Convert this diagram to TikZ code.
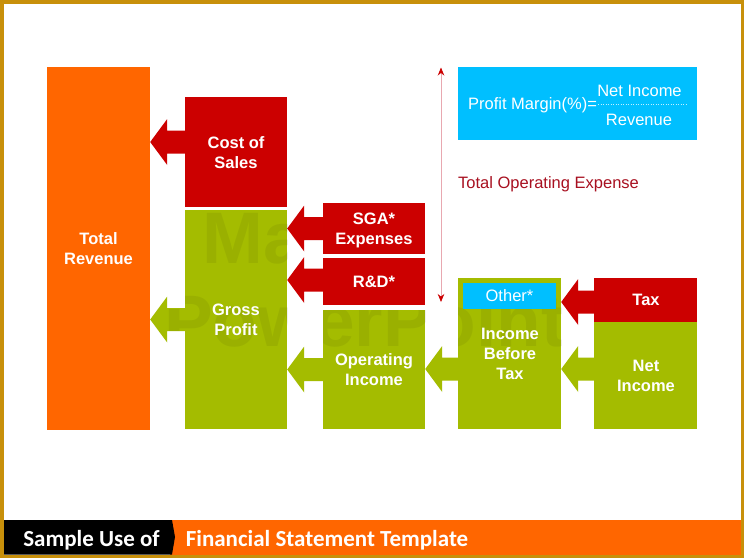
\documentclass[tikz,border=0pt]{standalone}
\usepackage{fontspec}
\setmainfont{Liberation Sans}
\newfontfamily\barfont{Carlito}
\usetikzlibrary{calc,arrows.meta}
\definecolor{framegold}{HTML}{C8900A}
\definecolor{barorange}{HTML}{FF6600}
\definecolor{boxred}{HTML}{CC0000}
\definecolor{boxgreen}{HTML}{A4BC00}
\definecolor{boxcyan}{HTML}{00BFFF}
\definecolor{textred}{HTML}{A81020}
\definecolor{spanpink}{HTML}{E8A8B0}
\tikzset{
	box/.style={inner sep=0pt, align=center, text=white, font=\fontsize{16.5}{20}\selectfont\bfseries},
	plain/.style={text=white, inner sep=0pt, font=\fontsize{16.5}{19}\selectfont},
	bartext/.style={text=white, font=\barfont\fontsize{23}{27}\selectfont\bfseries},
	watermark/.style={opacity=0.06, font=\fontsize{73}{76}\selectfont\bfseries},
	blockarrow/.style={to path={let \p1=(\tikztostart), \p2=(\tikztotarget) in
		(\x1,\y1+11.5pt) -- (\x2+17pt,\y1+11.5pt) -- (\x2+17pt,\y1+23pt) -- (\x2,\y1)
		-- (\x2+17pt,\y1-23pt) -- (\x2+17pt,\y1-11.5pt) -- (\x1,\y1-11.5pt) -- cycle}},
}
\begin{document}
\begin{tikzpicture}[x=1pt, y=-1pt]

	\useasboundingbox (0,0) rectangle (744,558);
	\fill[framegold] (0,0) rectangle (744,558);
	\fill[white] (4,4) rectangle (741,554.5);

	% bottom bar
	\fill[barorange] (170,520) rectangle (741,554.5);
	\fill[black] (4,520) -- (172,520) -- (175,537) -- (172,554.5) -- (4,554.5) -- cycle;
	\node[bartext] (sample) at (91.5,540) {Sample Use of};
	\node[bartext] (title) at (327,540) {Financial Statement Template};

	% boxes
	\node[box, fill=barorange, minimum width=103pt, minimum height=363pt] (revenue) at (98.5,248.5) {Total\\Revenue};
	\node[box, fill=boxred, minimum width=102pt, minimum height=110pt] (cost) at (236,152) {};
	\node[box, fill=boxgreen, minimum width=102pt, minimum height=219pt] (gross) at (236,319.5) {};
	\node[box, fill=boxred, minimum width=102pt, minimum height=51pt] (sga) at (374,228.5) {};
	\node[box, fill=boxred, minimum width=102pt, minimum height=47pt] (rd) at (374,281.5) {};
	\node[box, fill=boxgreen, minimum width=102pt, minimum height=119pt] (operating) at (374,369.5) {};
	\node[box, fill=boxgreen, minimum width=103pt, minimum height=151pt] (before) at (509.5,353.5) {};
	\node[box, fill=boxred, minimum width=103pt, minimum height=44pt] (tax) at (645.5,300) {};
	\node[box, fill=boxgreen, minimum width=103pt, minimum height=107pt] (net) at (645.5,375.5) {};
	\node[box, fill=boxcyan, minimum width=239pt, minimum height=73pt] (margin) at (577.5,103.5) {};

	% block arrows
	\fill[boxred] ([yshift=10pt]cost.west) to[blockarrow] (revenue.east);
	\fill[boxgreen] (gross.west) to[blockarrow] (revenue.east);
	\fill[boxred] (sga.west) to[blockarrow] (gross.east);
	\fill[boxred] ([yshift=1.5pt]rd.west) to[blockarrow] (gross.east);
	\fill[boxgreen] (operating.west) to[blockarrow] (gross.east);
	\fill[boxgreen] ([yshift=-15.5pt]before.west) to[blockarrow] (operating.east);
	\fill[boxred] ([yshift=-2pt]tax.west) to[blockarrow] (before.east);
	\fill[boxgreen] ([yshift=6.5pt]net.west) to[blockarrow] (before.east);

	% watermark, seen only on the green
	\begin{scope}
		\clip (gross.north west) rectangle (gross.south east)
			(operating.north west) rectangle (operating.south east)
			(before.north west) rectangle (before.south east)
			(150,308.5) rectangle (185,330.5);
		\node[watermark] (mark1) at (253.5,239) {Ma};
		\node[watermark] (mark2) at (365,320) {PowerPoint};
	\end{scope}
	\node[box, fill=boxcyan, minimum width=93pt, minimum height=26pt, font=\fontsize{16.5}{19}\selectfont] (other) at (509.5,296) {Other*};

	% labels
	\node[box] (costtext) at (236,152.5) {Cost of\\Sales};
	\node[box] (grosstext) at (236,320) {Gross\\Profit};
	\node[box] (sgatext) at (374,230) {SGA*\\Expenses};
	\node[box] (rdtext) at (374,282) {R\&D*};
	\node[box] (optext) at (374,370) {Operating\\Income};
	\node[box] (beforetext) at (510,354) {Income\\Before\\Tax};
	\node[box] (taxtext) at (646,300) {Tax};
	\node[box] (nettext) at (646,376) {Net\\Income};

	% margin formula
	\node[plain] (ratio) at (532.5,105) {Profit Margin(\%)=};
	\node[plain] (top) at (639.5,90.5) {Net Income};
	\node[plain] (bottom) at (639,119.5) {Revenue};
	\coordinate (dotleft) at (598,104);
	\coordinate (dotright) at (687,104);
	\draw[white!75!boxcyan, dotted, line width=0.5pt] (dotleft) -- (dotright);

	% expense span
	\coordinate (spantop) at (441,67.5);
	\coordinate (spanbottom) at (441,302);
	\draw[spanpink, line width=0.8pt, {Stealth[length=8pt,width=6.5pt,color=boxred]}-{Stealth[length=8pt,width=6.5pt,color=boxred]}] (spantop) -- (spanbottom);
	\node[plain, anchor=west, text=textred] (expense) at (458,184) {Total Operating Expense};

\end{tikzpicture}
\end{document}
